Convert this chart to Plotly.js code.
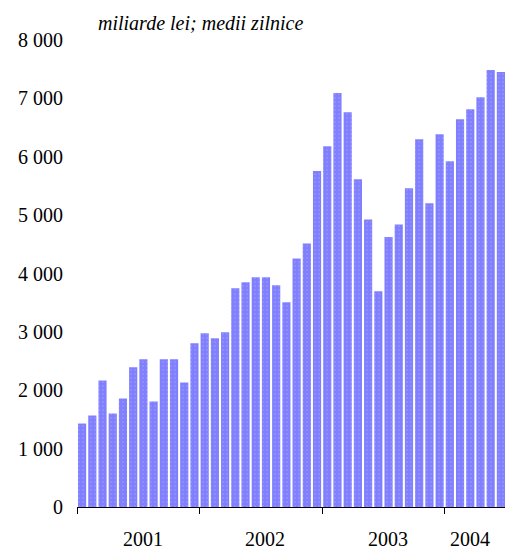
<!DOCTYPE html>
<html>
<head>
<meta charset="utf-8">
<script src="https://cdn.plot.ly/plotly-3.0.1.min.js"></script>
<style>html,body{margin:0;padding:0;background:#fff}#chart{width:505px;height:549px}</style>
</head>
<body>
<div id="chart"></div>
<script>
// Monthly data, Jan 2001 – Jun 2004 (miliarde lei; medii zilnice)
const months = [
  '2001-01','2001-02','2001-03','2001-04','2001-05','2001-06','2001-07','2001-08','2001-09','2001-10','2001-11','2001-12',
  '2002-01','2002-02','2002-03','2002-04','2002-05','2002-06','2002-07','2002-08','2002-09','2002-10','2002-11','2002-12',
  '2003-01','2003-02','2003-03','2003-04','2003-05','2003-06','2003-07','2003-08','2003-09','2003-10','2003-11','2003-12',
  '2004-01','2004-02','2004-03','2004-04','2004-05','2004-06'
];
const values = [
  1430, 1567, 2168, 1602, 1859, 2392, 2529, 1808, 2529, 2529, 2134, 2804,
  2975, 2889, 2992, 3748, 3851, 3937, 3937, 3799, 3507, 4258, 4515, 5757,
  6180, 7090, 6764, 5614, 4927, 3696, 4624, 4841, 5459, 6300, 5202, 6386,
  5923, 6644, 6815, 7021, 7485, 7450
];
const yearLabels = ['2001', '2002', '2003', '2004'];
const yTicks = [0, 1000, 2000, 3000, 4000, 5000, 6000, 7000, 8000];
const titleText = 'miliarde lei; medii zilnice';

const idx = months.map((m, i) => i);
const yearStarts = yearLabels.map(y => months.findIndex(m => m.startsWith(y)) - 0.5);
const labelX = [5.95, 17.95, 29.9, 37.95];

const font = "'Liberation Serif', 'Times New Roman', Times, serif";

const trace = {
  type: 'bar',
  x: idx,
  y: values,
  marker: {
    color: '#8080ff',
    line: {width: 0},
    pattern: {shape: '.', fillmode: 'overlay', fgcolor: '#b4b4ff', size: 4, solidity: 0.15}
  },
  hoverinfo: 'x+y'
};

const annotations = yearLabels.map((y, i) => ({
  text: y, xref: 'x', yref: 'paper', x: labelX[i], y: -0.068,
  yanchor: 'middle', xanchor: 'center', showarrow: false,
  font: {family: font, size: 20, color: '#000'}
}));
annotations.push({
  text: '<i>' + titleText + '</i>', xref: 'paper', yref: 'paper',
  x: 0.045, y: 1.0, xanchor: 'left', yanchor: 'bottom', yshift: 4, showarrow: false,
  font: {family: font, size: 20, color: '#000'}
});

const layout = {
  width: 505, height: 549,
  margin: {l: 77, r: 0, t: 40, b: 42},
  paper_bgcolor: '#fff', plot_bgcolor: '#fff',
  bargap: 0.2,
  showlegend: false,
  font: {family: font, size: 20, color: '#000'},
  xaxis: {
    range: [-0.5, 41.4],
    tickmode: 'array', tickvals: yearStarts, ticktext: yearStarts.map(() => ''),
    ticks: 'outside', ticklen: 6, tickcolor: '#000', tickwidth: 1,
    showline: true, linecolor: '#000', linewidth: 1,
    showgrid: false, zeroline: false, fixedrange: true
  },
  yaxis: {
    range: [0, 8000],
    tickmode: 'array', tickvals: yTicks,
    ticktext: yTicks.map(v => v === 0 ? '0' : (v / 1000) + ' 000'),
    ticks: '', showline: false, showgrid: false, zeroline: false,
    ticklabelstandoff: 13,
    tickfont: {family: font, size: 20, color: '#000'},
    fixedrange: true
  },
  annotations: annotations
};

Plotly.newPlot('chart', [trace], layout, {displayModeBar: false, staticPlot: true});
</script>
</body>
</html>
